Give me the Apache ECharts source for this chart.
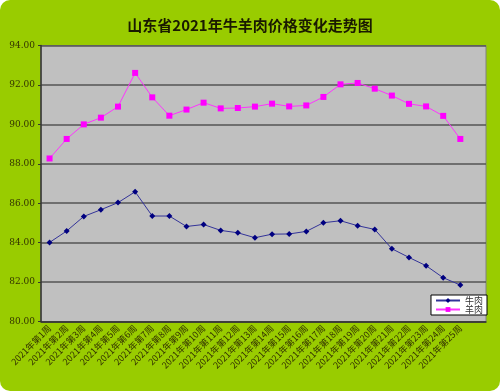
<!DOCTYPE html>
<html>
<head>
<meta charset="utf-8">
<script src="https://cdn.jsdelivr.net/npm/echarts@6/dist/echarts.min.js"></script>
<style>
html,body{margin:0;padding:0;background:#fff;}
#c{width:500px;height:391px;background:#99CC00;border-radius:10px;overflow:hidden;}
</style>
</head>
<body>
<div id="c"></div>
<script>
const titleText = '山东省2021年牛羊肉价格变化走势图';
const weeks = [];
for (let i = 1; i <= 25; i++) weeks.push('2021年第' + i + '周');
weeks.push('');
const beef = [84.01, 84.59, 85.33, 85.67, 86.03, 86.58, 85.35, 85.35, 84.82, 84.92, 84.62, 84.50, 84.25, 84.43, 84.44, 84.57, 85.01, 85.11, 84.86, 84.67, 83.69, 83.25, 82.83, 82.22, 81.85];
const mutton = [88.27, 89.26, 90.00, 90.34, 90.90, 92.61, 91.37, 90.44, 90.75, 91.10, 90.81, 90.83, 90.90, 91.05, 90.91, 90.96, 91.39, 92.03, 92.10, 91.81, 91.46, 91.04, 90.91, 90.43, 89.26];
const yTicks = {min: 80, max: 94, interval: 2};

const chart = echarts.init(document.getElementById('c'), null, {renderer: 'canvas'});
const txt = '#333300';
chart.setOption({
  backgroundColor: 'transparent',
  animation: false,
  title: {
    text: titleText, left: 'center', top: 13,
    textStyle: {fontSize: 15, fontWeight: 'bold', color: '#1a1a00', fontFamily: 'Noto Sans CJK SC'}
  },
  legend: {
    orient: 'vertical', right: 13, top: 295,
    backgroundColor: '#fff', borderColor: '#000', borderWidth: 1,
    padding: [1, 4, 1, 4], itemGap: 0, itemWidth: 24, itemHeight: 6,
    textStyle: {fontSize: 9, color: '#333', fontFamily: 'Noto Sans CJK SC'},
    data: ['牛肉', '羊肉']
  },
  grid: {
    left: 41, right: 14, top: 45.5, bottom: 69.5,
    show: true, backgroundColor: '#C0C0C0', borderColor: '#808080', borderWidth: 1
  },
  xAxis: {
    type: 'category', data: weeks, boundaryGap: true,
    axisLine: {lineStyle: {color: '#333', width: 1.5}},
    axisTick: {inside: true, length: 3, lineStyle: {color: '#333'}},
    axisLabel: {interval: 0, rotate: 45, fontSize: 9, color: txt, margin: 5, fontFamily: 'Noto Sans CJK SC'}
  },
  yAxis: {
    type: 'value', min: yTicks.min, max: yTicks.max, interval: yTicks.interval,
    axisLine: {show: true, lineStyle: {color: '#333', width: 1.5}},
    axisTick: {show: true, length: 3, lineStyle: {color: '#333'}},
    splitLine: {lineStyle: {color: '#555', width: 1.5}},
    axisLabel: {formatter: v => v.toFixed(2), fontSize: 9, color: txt, margin: 6, fontFamily: 'DejaVu Serif'}
  },
  series: [
    {
      name: '牛肉', type: 'line', data: beef,
      symbol: 'diamond', symbolSize: 6,
      lineStyle: {color: '#333399', width: 1},
      itemStyle: {color: '#000080'}
    },
    {
      name: '羊肉', type: 'line', data: mutton,
      symbol: 'rect', symbolSize: 6,
      lineStyle: {color: '#FF33FF', width: 1},
      itemStyle: {color: '#FF00FF'}
    }
  ]
});
</script>
</body>
</html>
